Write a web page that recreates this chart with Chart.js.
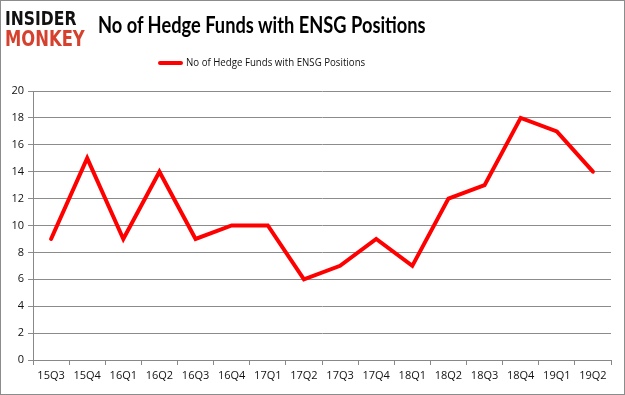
<!DOCTYPE html>
<html>
<head>
<meta charset="utf-8">
<script src="https://cdn.jsdelivr.net/npm/chart.js@4"></script>
<style>
  html, body { margin: 0; padding: 0; background: #fff; }
  #wrap { position: relative; width: 623px; height: 393px; border: 1px solid #8c8c8c; overflow: hidden; }
  #myChart { position: absolute; left: 0; top: 0; }
  .logo { position: absolute; left: 4px; font-family: "DejaVu Sans"; font-weight: bold; line-height: 19px; transform-origin: left; white-space: nowrap; }
  #logo1 { top: 8px; color: #111; font-size: 19px; transform: scaleX(0.82); }
  #logo2 { top: 29px; color: #d6412e; font-size: 21px; transform: scaleX(0.78); }
  #title { position: absolute; left: 97px; top: 10px; font-family: Lato; font-weight: bold; font-size: 22px; color: #000; white-space: nowrap; transform: scaleX(0.83); transform-origin: left; }
  #legend { position: absolute; left: 157px; top: 53px; font-family: "Open Sans"; font-size: 11px; color: #111; white-space: nowrap; }
  #legend span { display: inline-block; width: 25px; height: 4px; background: #ff0000; vertical-align: middle; margin-right: 3px; border-radius: 2px; }
  #legend b { font-weight: normal; display: inline-block; transform: scaleX(0.88); transform-origin: left; }
</style>
</head>
<body>
<div id="wrap">
  <canvas id="myChart" width="623" height="393"></canvas>
  <div class="logo" id="logo1">INSIDER</div>
  <div class="logo" id="logo2">MONKEY</div>
  <div id="title">No of Hedge Funds with ENSG Positions</div>
  <div id="legend"><span></span><b>No of Hedge Funds with ENSG Positions</b></div>
</div>
<script>
const quarters = ['15Q3','15Q4','16Q1','16Q2','16Q3','16Q4','17Q1','17Q2','17Q3','17Q4','18Q1','18Q2','18Q3','18Q4','19Q1','19Q2']
const fundCounts = [9, 15, 9, 14, 9, 10, 10, 6, 7, 9, 7, 12, 13, 18, 17, 14]
const seriesName = 'No of Hedge Funds with ENSG Positions'

const data = {
  labels: quarters,
  datasets: [{
    label: seriesName,
    data: fundCounts,
    borderColor: '#ff0000',
    borderWidth: 4,
    pointRadius: 0,
    tension: 0,
    borderJoinStyle: 'miter',
    borderCapStyle: 'round'
  }]
}

// config
const config = {
  type: 'line',
  data,
  options: {
    responsive: false,
    animation: false,
    layout: { padding: { top: 90, right: 13, left: 0, bottom: 0 } },
    scales: {
      x: {
        offset: true,
        grid: { display: true, drawOnChartArea: false, offset: true, tickLength: 5, color: '#888' },
        border: { color: '#888' },
        ticks: { color: '#111', font: { family: 'Open Sans', size: 11 }, maxRotation: 0, autoSkip: false, padding: 4 },
        afterFit: function(scale) { scale.height = 34 }
      },
      y: {
        min: 0,
        max: 20,
        ticks: { stepSize: 2, color: '#111', font: { family: 'Open Sans', size: 11 }, padding: 4 },
        grid: { color: '#8c8c8c', tickLength: 5 },
        border: { color: '#888' },
        afterFit: function(scale) { scale.width = 32 }
      }
    },
    plugins: {
      legend: { display: false },
      tooltip: { enabled: false }
    }
  }
}

const myChart = new Chart(document.getElementById('myChart'), config)
</script>
</body>
</html>
